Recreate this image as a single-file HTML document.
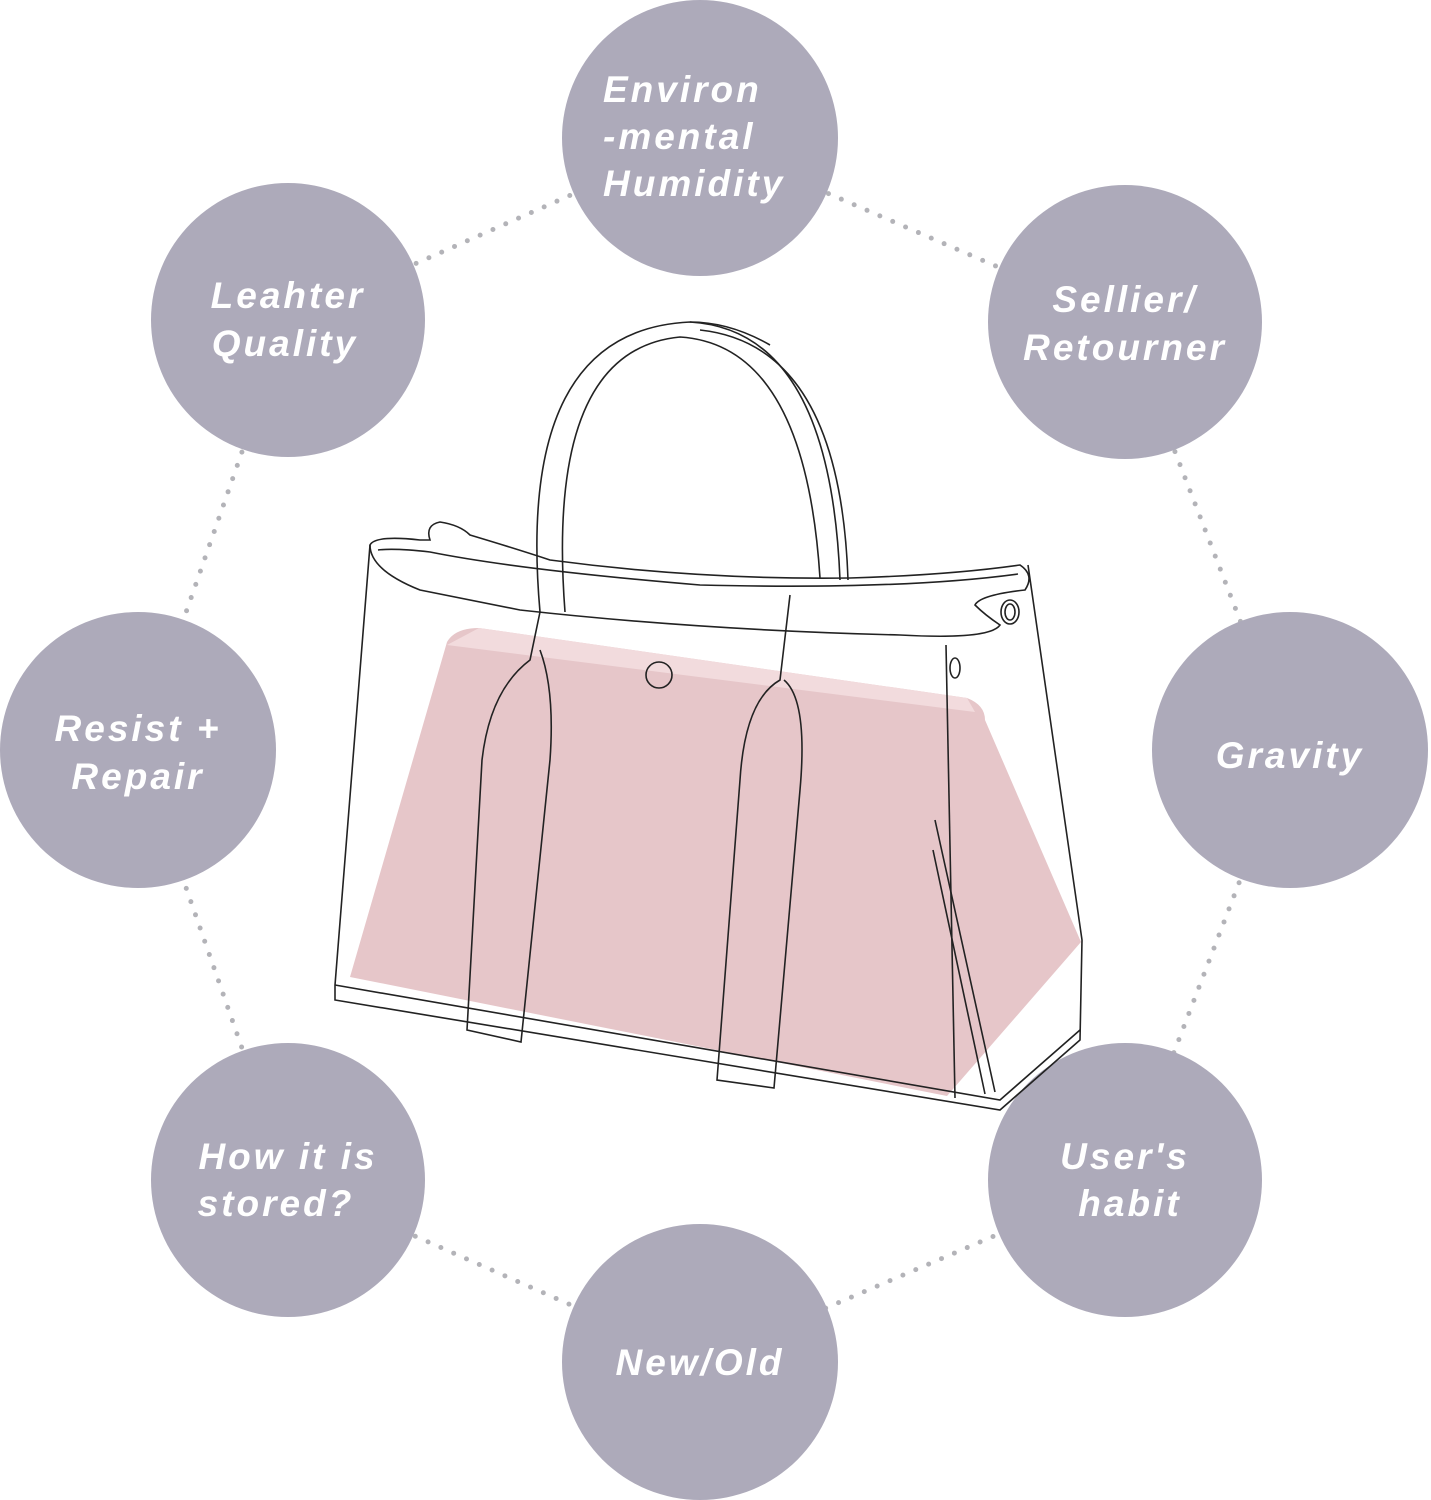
<!DOCTYPE html>
<html><head><meta charset="utf-8"><style>
html,body{margin:0;padding:0;background:#fff}
svg{display:block}
text{font-family:"Liberation Sans",sans-serif;font-weight:bold;font-style:italic;fill:#fff;font-size:37px;letter-spacing:3px}
</style></head><body>
<svg width="1431" height="1500" viewBox="0 0 1431 1500">
<g stroke="#b3b3b8" stroke-width="5" stroke-linecap="round" stroke-dasharray="0 14" fill="none">
<polyline points="700,138 1125,322 1290,750 1125,1180 700,1362 288,1180 138,750 288,320 700,138"/>
</g>
<g fill="#adaaba">
<circle cx="700" cy="138" r="138"/>
<circle cx="288" cy="320" r="137"/>
<circle cx="1125" cy="322" r="137"/>
<circle cx="138" cy="750" r="138"/>
<circle cx="1290" cy="750" r="138"/>
<circle cx="288" cy="1180" r="137"/>
<circle cx="1125" cy="1180" r="137"/>
<circle cx="700" cy="1362" r="138"/>
</g>
<text x="603" y="102">Environ</text>
<text x="603" y="149">-mental</text>
<text x="603" y="196">Humidity</text>
<text x="288" y="308" text-anchor="middle">Leahter</text>
<text x="285" y="356" text-anchor="middle">Quality</text>
<text x="1125" y="312" text-anchor="middle">Sellier/</text>
<text x="1125" y="360" text-anchor="middle">Retourner</text>
<text x="138" y="741" text-anchor="middle">Resist +</text>
<text x="138" y="789" text-anchor="middle">Repair</text>
<text x="1290" y="768" text-anchor="middle">Gravity</text>
<text x="288" y="1169" text-anchor="middle">How it is</text>
<text x="276" y="1216" text-anchor="middle">stored?</text>
<text x="1125" y="1169" text-anchor="middle">User's</text>
<text x="1130" y="1216" text-anchor="middle">habit</text>
<text x="700" y="1375" text-anchor="middle">New/Old</text>
<!-- bag -->
<path d="M479,628 L967,698 Q985,705 985,720 L1081,942 L947,1096 L350,977 L447,642 Q455,628 479,628Z" fill="#e6c6c9"/>
<path d="M479,628 L967,698 L975,712 L447,645Z" fill="#f2dbdd"/>
<g fill="none" stroke="#222" stroke-width="1.6">
<path d="M370,545 Q375,535 420,540 L430,540 Q425,525 440,522 Q460,525 470,535 Q520,550 550,560 Q700,580 850,578 Q950,575 1020,565 Q1035,575 1025,590 Q980,595 975,605 Q985,615 1000,625 Q990,640 900,635 Q700,630 520,610 L420,590 Q370,570 370,545Z"/>
<path d="M378,550 Q395,548 430,552 Q520,570 700,585 Q900,590 1018,574"/>
<path d="M370,545 L335,985 L335,1000 L1000,1110 L1080,1040 L1082,940 L1028,565"/>
<path d="M335,985 L1000,1100 L1080,1030"/>
<path d="M946,645 L955,1098"/>
<path d="M935,820 L995,1092 M933,850 L985,1094"/>
<path d="M540,612 Q515,330 690,322 Q830,330 840,580"/>
<path d="M565,612 Q545,350 680,337 Q805,345 820,578"/>
<path d="M700,330 Q840,345 848,580 M690,322 Q730,322 770,345"/>
<path d="M540,612 L530,660 Q490,690 482,760 L467,1030 L521,1042 L550,760 Q555,690 540,650"/>
<path d="M790,595 L780,680 Q745,700 740,780 L717,1080 L774,1088 L800,790 Q808,700 784,680"/>
<circle cx="659" cy="675" r="13"/>
<ellipse cx="1010" cy="612" rx="9" ry="12"/>
<ellipse cx="1010" cy="612" rx="5" ry="8"/>
<ellipse cx="955" cy="668" rx="5" ry="10"/>
</g>
</svg>
</body></html>
